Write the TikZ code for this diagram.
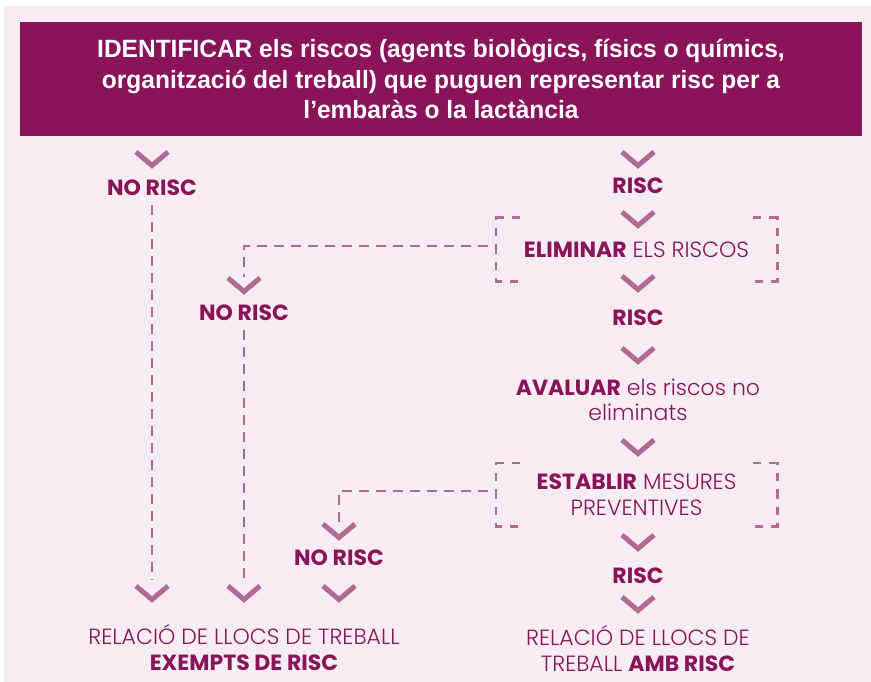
\documentclass[tikz,border=0pt]{standalone}
\usepackage{fontspec}
\setmainfont{Poppins}[UprightFont=* Light,BoldFont=* Bold]
\newfontfamily\hdrfont{Liberation Sans}[FakeStretch=0.98]
\usetikzlibrary{calc}
\definecolor{bgpink}{HTML}{F6ECF2}
\definecolor{dark}{HTML}{8A1459}
\definecolor{mauve}{HTML}{B06A94}
\begin{document}
\begin{tikzpicture}[x=1pt,y=-1pt,
  lbl/.style={text=dark,font=\fontsize{22}{25.5}\selectfont,align=center,inner sep=0pt},
  dashln/.style={draw=mauve,line width=2.6pt,dash pattern=on 10pt off 7pt},
  bracket/.style={draw=mauve,line width=2.6pt,dash pattern=on 8pt off 8pt on 10pt off 8pt},
  chevstyle/.style={draw=mauve,line width=5pt},
  chv/.pic={\draw[chevstyle] (-16,-6) -- (0,7.5) -- (16,-6);}]
\useasboundingbox (0,0) rectangle (871,682);
\fill[bgpink] (4,6) rectangle (871,682);
% header
\node[fill=dark,minimum width=842pt,minimum height=114pt,inner sep=0pt,text=white,align=center,
  font=\hdrfont\bfseries\fontsize{25}{30.5}\selectfont] (hdr) at (441,79)
  {IDENTIFICAR els riscos (agents biològics, físics o químics,\\
   organització del treball) que puguen representar risc per a\\
   l’embaràs o la lactància};
% right column
\node[lbl] (risc1) at (638,186) {\textbf{RISC}};
\node[lbl,minimum width=281pt,minimum height=63pt] (elim) at (636.5,249.5) {\textbf{ELIMINAR} ELS RISCOS};
\node[lbl] (risc2) at (638,318) {\textbf{RISC}};
\node[lbl] (aval) at (638,400) {\textbf{AVALUAR} els riscos no\\eliminats};
\node[lbl,minimum width=281pt,minimum height=63pt] (estab) at (636.5,494.5) {\textbf{ESTABLIR} MESURES\\PREVENTIVES};
\node[lbl] (risc3) at (638,576) {\textbf{RISC}};
\node[lbl] (relR) at (638,648.5) {RELACIÓ DE LLOCS DE\\TREBALL \textbf{AMB RISC}};
% left side
\node[lbl] (nr1) at (152,188) {\textbf{NO RISC}};
\node[lbl] (nr2) at (244,313) {\textbf{NO RISC}};
\node[lbl] (nr3) at (339,558) {\textbf{NO RISC}};
\node[lbl] (relL) at (244,647.5) {RELACIÓ DE LLOCS DE TREBALL\\\textbf{EXEMPTS DE RISC}};
% chevron positions
\foreach \n/\p in {a/{638,158},b/{638,218},c/{638,282},d/{638,354},e/{638,446},f/{638,541},g/{638,603},
                   h/{152,158},i/{244,284},j/{339,530},k/{152,592},l/{244,592},m/{339,592}}
  {\coordinate (ch\n) at (\p); \pic at (ch\n) {chv};}
% brackets
\draw[bracket] ($(elim.north west)+(24,0)$) -- (elim.north west) -- (elim.south west) -- ($(elim.south west)+(24,0)$);
\draw[bracket] ($(elim.north east)+(-24,0)$) -- (elim.north east) -- (elim.south east) -- ($(elim.south east)+(-24,0)$);
\draw[bracket] ($(estab.north west)+(24,0)$) -- (estab.north west) -- (estab.south west) -- ($(estab.south west)+(24,0)$);
\draw[bracket] ($(estab.north east)+(-24,0)$) -- (estab.north east) -- (estab.south east) -- ($(estab.south east)+(-24,0)$);
% dashed connectors
\draw[dashln] ($(elim.west)+(-8,-3.5)$) -| ($(chi)+(0,-7)$);
\draw[dashln] ($(estab.west)+(-8,-3.5)$) -| ($(chj)+(0,-7)$);
\draw[dashln] ($(nr1.south)+(0,9)$) -- ($(chk)+(0,-12)$);
\draw[dashln] ($(nr2.south)+(0,9)$) -- ($(chl)+(0,-12)$);
\end{tikzpicture}
\end{document}
